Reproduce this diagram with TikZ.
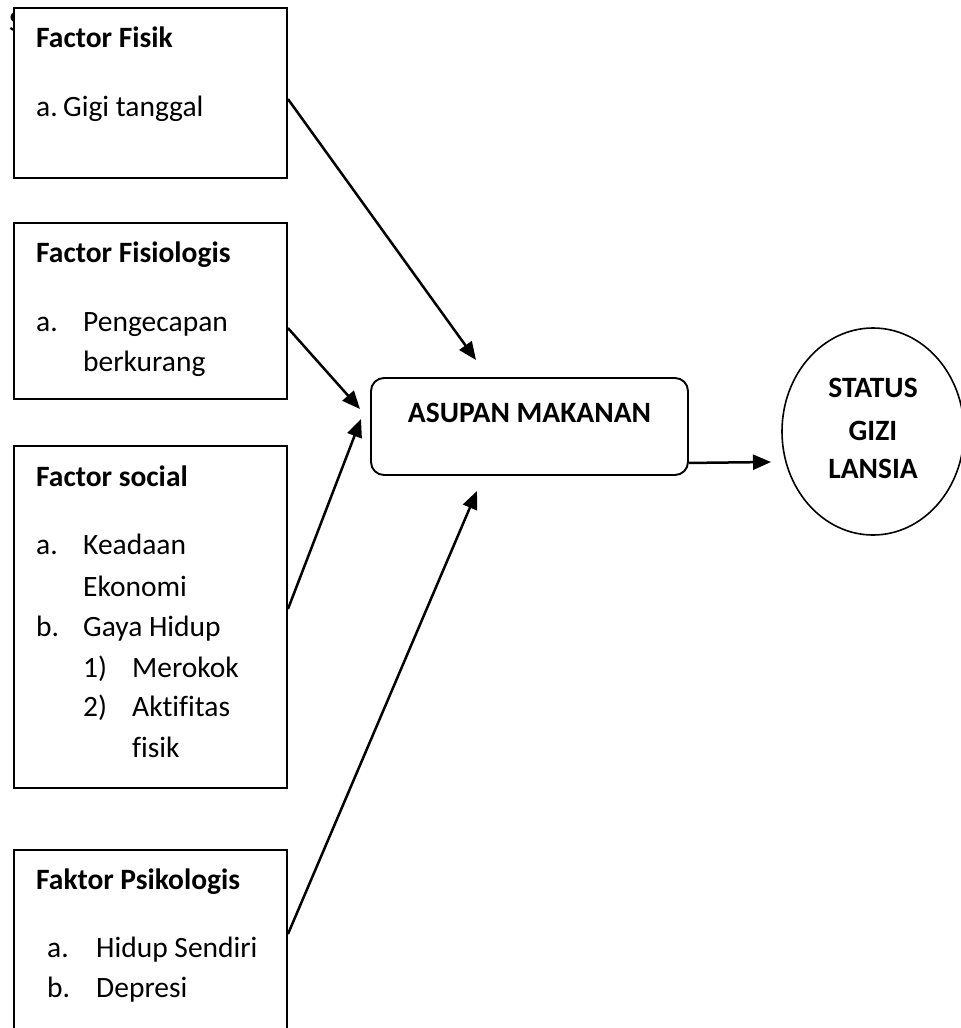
\documentclass[tikz,border=0pt]{standalone}
\usepackage{fontspec}
\setmainfont[Ligatures=NoCommon]{Carlito}
\usetikzlibrary{arrows.meta,calc,shapes.geometric}
\begin{document}
\begin{tikzpicture}[x=1pt,y=-1pt,
  factorbox/.style={draw,line width=1.9pt,fill=white,minimum width=273pt,inner sep=0pt},
  lbl/.style={anchor=base west,inner sep=0pt,font=\fontsize{29.5}{34}\selectfont},
  ttl/.style={lbl,font=\fontsize{29.5}{34}\selectfont\bfseries},
  conn/.style={line width=2.5pt,-{Triangle[length=18pt,width=15pt]}}]
\useasboundingbox (0,0) rectangle (961,1028);
\fill[white] (0,0) rectangle (961,1028);
% stray glyph mostly hidden behind the first box
\node[lbl] (stray) at (9,31) {S};
% factor boxes
\node[factorbox,minimum height=170pt] (b1) at (150.5,93) {};
\node[factorbox,minimum height=176pt] (b2) at (150.5,311) {};
\node[factorbox,minimum height=342pt] (b3) at (150.5,617) {};
\node[factorbox,minimum height=200pt] (b4) at (150.5,950) {};
% box 1
\node[ttl] (t1) at (36,47) {Factor Fisik};
\node[lbl] (t1a) at (36,116) {a.};
\node[lbl] (t1at) at (63,116) {Gigi tanggal};
% box 2
\node[ttl] (t2) at (36,262) {Factor Fisiologis};
\node[lbl] (t2a) at (36,331) {a.};
\node[lbl] (t2at) at (83,331) {Pengecapan};
\node[lbl] (t2at2) at (83,371) {berkurang};
% box 3
\node[ttl] (t3) at (36,486) {Factor social};
\node[lbl] (t3a) at (36,554) {a.};
\node[lbl] (t3at) at (83,554) {Keadaan};
\node[lbl] (t3at2) at (83,596) {Ekonomi};
\node[lbl] (t3b) at (36,636) {b.};
\node[lbl] (t3bt) at (83,636) {Gaya Hidup};
\node[lbl] (t3b1) at (83,677) {1)};
\node[lbl] (t3b1t) at (132,677) {Merokok};
\node[lbl] (t3b2) at (83,716) {2)};
\node[lbl] (t3b2t) at (132,716) {Aktifitas};
\node[lbl] (t3b2t2) at (132,757) {fisik};
% box 4
\node[ttl] (t4) at (36,889) {Faktor Psikologis};
\node[lbl] (t4a) at (47,957) {a.};
\node[lbl] (t4at) at (96,957) {Hidup Sendiri};
\node[lbl] (t4b) at (47,997) {b.};
\node[lbl] (t4bt) at (96,997) {Depresi};
% central box
\node[draw,line width=1.9pt,rounded corners=13pt,minimum width=317pt,minimum height=97pt] (asupan) at (529.5,426.5) {};
\node[ttl,anchor=base] (asupant) at (529.5,422) {ASUPAN MAKANAN};
% outcome ellipse
\node[draw,line width=1.6pt,ellipse,minimum width=182pt,minimum height=207pt,inner sep=0pt] (status) at (873,431.5) {};
\node[ttl,anchor=base] (s1) at (873,397) {STATUS};
\node[ttl,anchor=base] (s2) at (873,440) {GIZI};
\node[ttl,anchor=base] (s3) at (873,478) {LANSIA};
% free arrow ends
\coordinate (e1) at (476,360);
\coordinate (e2) at (360,409);
\coordinate (e3) at (361,419);
\coordinate (e4) at (477,491);
\coordinate (e5) at (771,462);
% connectors
\draw[conn] ($(b1.north east)+(0,92)$) -- (e1);
\draw[conn] ($(b2.north east)+(0,106)$) -- (e2);
\draw[conn] ($(b3.north east)+(0,164)$) -- (e3);
\draw[conn] ($(b4.north east)+(0,85)$) -- (e4);
\draw[conn] ($(asupan.south east)+(0,-13)$) -- (e5);
\end{tikzpicture}
\end{document}
